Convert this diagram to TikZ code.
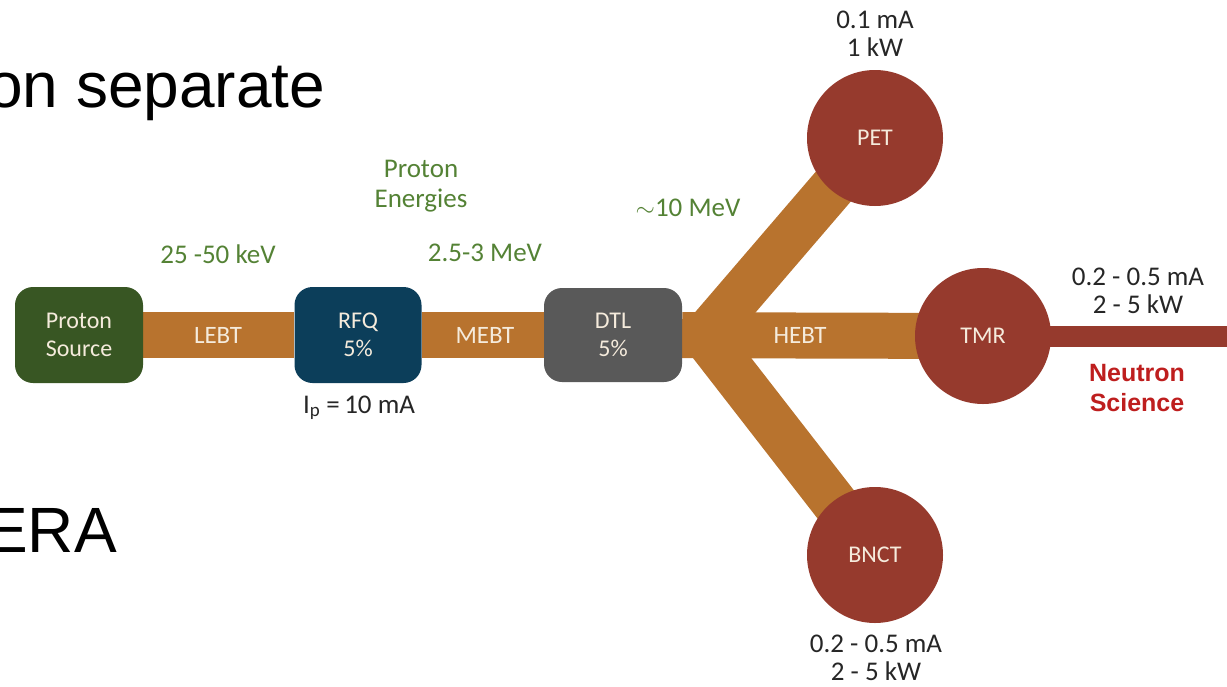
\documentclass[tikz,border=0pt]{standalone}
\usepackage{fontspec}
\setmainfont{Carlito}
\newfontfamily\slidefont{Liberation Sans}
\usetikzlibrary{backgrounds}
\definecolor{beamcol}{RGB}{184,115,46}
\definecolor{sourcecol}{RGB}{56,86,35}
\definecolor{rfqcol}{RGB}{12,62,90}
\definecolor{dtlcol}{RGB}{89,89,89}
\definecolor{targetcol}{RGB}{150,58,45}
\definecolor{labelcol}{RGB}{245,235,220}
\definecolor{energycol}{RGB}{84,130,53}
\definecolor{currentcol}{RGB}{38,38,38}
\definecolor{sciencecol}{RGB}{190,30,30}

\begin{document}
\begin{tikzpicture}[x=1pt,y=-1pt,
  box/.style={rounded corners=18pt,minimum width=128pt,minimum height=96pt,
    align=center,text=labelcol,font=\fontsize{24}{28}\selectfont},
  target/.style={circle,fill=targetcol,minimum size=136pt,inner sep=0pt,
    text=labelcol,font=\fontsize{24}{28}\selectfont},
  beam/.style={line width=46pt,draw=beamcol},
  beamlabel/.style={anchor=base,inner sep=0pt,text=labelcol,
    font=\fontsize{25}{28}\selectfont},
  energy/.style={inner sep=0pt,align=center,text=energycol,
    font=\fontsize{27}{30}\selectfont},
  current/.style={inner sep=0pt,align=center,text=currentcol,
    font=\fontsize{27}{28}\selectfont}
  ]
  \useasboundingbox (0,0) rectangle (1227,686);
  \clip (0,0) rectangle (1227,686);

  \node[anchor=base west,inner sep=0pt,font=\slidefont\fontsize{64}{70}\selectfont] (title) at (-13,107) {on separate};
  \node[anchor=base west,inner sep=0pt,font=\slidefont\fontsize{64}{70}\selectfont] (era) at (-15,552) {ERA};

  \node[box,fill=sourcecol] (src) at (79,335) {Proton\\Source};
  \node[box,fill=rfqcol,minimum width=127pt] (rfq) at (358,335) {RFQ\\5\%};
  \node[box,fill=dtlcol,minimum width=138pt,minimum height=94pt] (dtl) at (613,335) {DTL\\5\%};

  \node[target] (pet) at (875,138) {PET};
  \node[target] (tmr) at (983,336) {TMR};
  \node[target] (bnct) at (875,555) {BNCT};

  \coordinate (fork) at (705,336);
  \coordinate (out) at (1240,336);

  \begin{scope}[on background layer]
    \draw[beam] (src) -- (rfq);
    \draw[beam] (rfq) -- (dtl);
    \draw[beam] (dtl) -- (tmr.center);
    \draw[beam] (fork) -- (pet.center);
    \draw[beam] (fork) -- (bnct.center);
    \draw[line width=21pt,draw=targetcol] (tmr.center) -- (out);
  \end{scope}

  \node[beamlabel] (lebt) at (218,343) {LEBT};
  \node[beamlabel] (mebt) at (485,343) {MEBT};
  \node[beamlabel] (hebt) at (800,343) {HEBT};

  \node[energy,anchor=base] (e1) at (218,263) {25 -50 keV};
  \node[energy] (energies) at (421,186) {Proton\\Energies};
  \node[energy,anchor=base] (e2) at (485,261) {2.5-3 MeV};
  \node[energy,anchor=base] (e3) at (688,216) {$\sim$10 MeV};

  \node[current,anchor=base] (ip) at (359,413) {I\textsubscript{p} =\,10 mA};
  \node[current] (petpow) at (875,34) {0.1 mA\\1 kW};
  \node[current] (tmrpow) at (1138,291) {0.2 - 0.5 mA\\2 - 5 kW};
  \node[current] (bnctpow) at (876,658) {0.2 - 0.5 mA\\2 - 5 kW};

  \node[inner sep=0pt,align=center,text=sciencecol,font=\slidefont\bfseries\fontsize{25}{30}\selectfont] (science) at (1137,388) {Neutron\\Science};
\end{tikzpicture}
\end{document}
